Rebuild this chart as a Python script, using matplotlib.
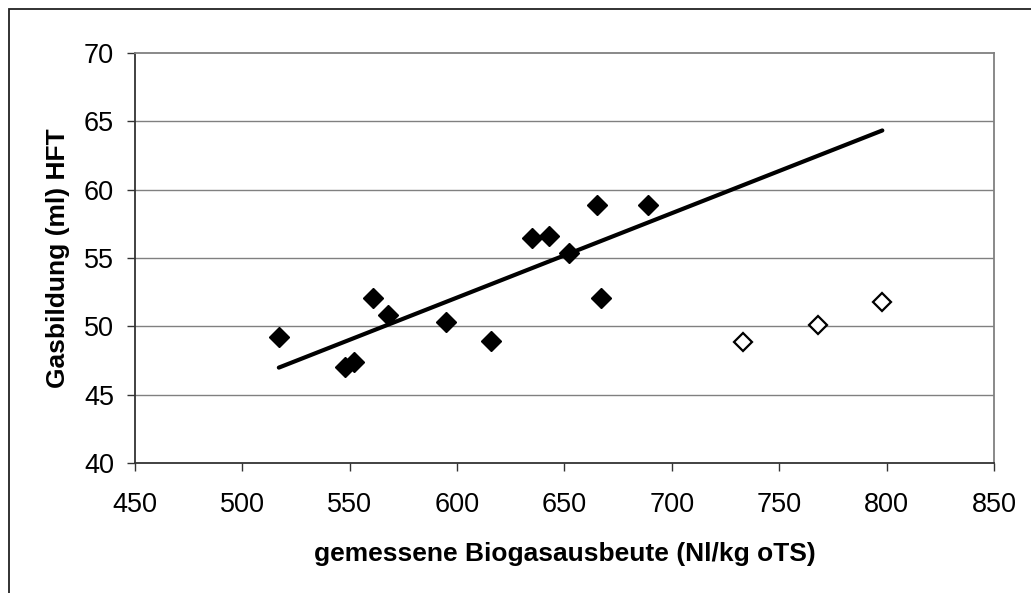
import numpy as np
import matplotlib
matplotlib.use("Agg")
import matplotlib.pyplot as plt
from matplotlib.patches import Rectangle

plt.rcParams["font.family"] = ["Liberation Sans", "DejaVu Sans"]

# Gemessene Biogasausbeute vs. Gasbildung (HFT)
x_gemessen = [517, 548, 552, 561, 568, 595, 616, 635, 643, 652, 665, 667, 689]
y_gemessen = [49.2, 47.0, 47.4, 52.1, 50.8, 50.3, 48.9, 56.5, 56.6, 55.4, 58.9, 52.05, 58.9]

# Ausreisser, nicht in der Regression
x_offen = [733, 768, 798]
y_offen = [48.85, 50.1, 51.8]

x_ticks = [450, 500, 550, 600, 650, 700, 750, 800, 850]
y_ticks = [40, 45, 50, 55, 60, 65, 70]

fig = plt.figure(figsize=(10.31, 5.93), dpi=100)
ax = fig.add_axes([0.1309, 0.2192, 0.8332, 0.6914])

# Rahmen um das Diagramm
fig.patches.append(Rectangle((9 / 1031, -0.2), 1.2, 0.2 + (593 - 9) / 593,
                             transform=fig.transFigure, fill=False,
                             edgecolor="#222222", linewidth=1.3))

for yv in y_ticks[1:-1]:
    ax.axhline(yv, color="#808080", linewidth=1.0, zorder=1)

# Lineare Regression ueber die gefuellten Punkte
steigung, achse = np.polyfit(x_gemessen, y_gemessen, 1)
x_linie = np.array([min(x_gemessen), max(x_offen)])
ax.plot(x_linie, steigung * x_linie + achse, color="black", linewidth=3.0,
        solid_capstyle="round", zorder=3)

ax.plot(x_gemessen, y_gemessen, linestyle="none", marker="D", markersize=10.5,
        markerfacecolor="black", markeredgecolor="black", markeredgewidth=1.0, zorder=4)
ax.plot(x_offen, y_offen, linestyle="none", marker="D", markersize=9.5,
        markerfacecolor="white", markeredgecolor="black", markeredgewidth=1.6, zorder=4)

ax.set_xlim(450, 850)
ax.set_ylim(40, 70)
ax.set_xticks(x_ticks)
ax.set_yticks(y_ticks)

ax.spines["top"].set_color("#808080")
ax.spines["right"].set_color("#808080")
ax.spines["left"].set_color("#333333")
ax.spines["bottom"].set_color("#333333")
for sp in ax.spines.values():
    sp.set_linewidth(1.3)

ax.tick_params(axis="both", direction="out", length=6, width=1.0,
               color="#333333", labelsize=19.5)
ax.tick_params(axis="x", pad=15)
ax.tick_params(axis="y", pad=9)

ax.set_xlabel("gemessene Biogasausbeute (Nl/kg oTS)", fontsize=19,
              fontweight="bold", labelpad=17)
ax.set_ylabel("Gasbildung (ml) HFT", fontsize=19, fontweight="bold", labelpad=10)

fig.savefig("out.png", dpi=100)
